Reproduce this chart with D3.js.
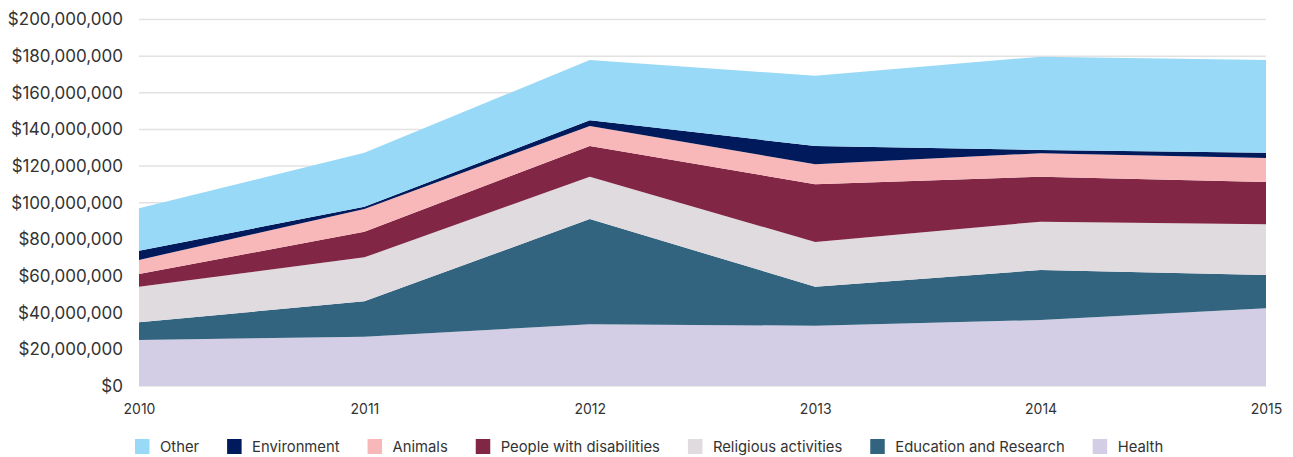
<!DOCTYPE html>
<html>
<head>
<meta charset="utf-8">
<script src="https://cdn.jsdelivr.net/npm/d3@7"></script>
<style>
  html, body { margin: 0; padding: 0; background: #fff; }
  svg { display: block; font-family: Inter, "Noto Sans", sans-serif; }
</style>
</head>
<body>
<svg id="chart" width="1293" height="457"></svg>
<script>
// Yearly giving by cause (USD)
const years = [2010, 2011, 2012, 2013, 2014, 2015];
const health      = [25.1e6, 26.9e6, 33.7e6, 32.9e6, 36.0e6, 42.4e6];
const education   = [9.7e6, 19.3e6, 57.4e6, 21.3e6, 27.3e6, 18.2e6];
const religious   = [19.4e6, 24.0e6, 23.1e6, 24.4e6, 26.4e6, 27.6e6];
const disabilities= [6.9e6, 14.0e6, 16.8e6, 31.5e6, 24.5e6, 23.1e6];
const animals     = [7.7e6, 12.4e6, 10.9e6, 10.9e6, 12.8e6, 13.1e6];
const environment = [5.0e6, 1.2e6, 3.1e6, 10.0e6, 1.8e6, 2.9e6];
const other       = [23.2e6, 29.5e6, 32.9e6, 38.3e6, 50.9e6, 50.6e6];
const yTicks = [0, 20e6, 40e6, 60e6, 80e6, 100e6, 120e6, 140e6, 160e6, 180e6, 200e6];

// Stack order bottom → top
const seriesDefs = [
  { key: "Health", values: health, color: "#d3cee5" },
  { key: "Education and Research", values: education, color: "#32647f" },
  { key: "Religious activities", values: religious, color: "#e0dbdf" },
  { key: "People with disabilities", values: disabilities, color: "#822645" },
  { key: "Animals", values: animals, color: "#f8b8b9" },
  { key: "Environment", values: environment, color: "#001a5c" },
  { key: "Other", values: other, color: "#97d9f6" }
];

const rows = years.map((yr, i) => {
  const r = { year: yr };
  seriesDefs.forEach(s => r[s.key] = s.values[i]);
  return r;
});

const svg = d3.select("#chart");
const margin = { left: 139, right: 27, top: 19.5, bottom: 71 };
const W = 1293, H = 457;

const x = d3.scaleLinear().domain([2010, 2015]).range([margin.left, W - margin.right]);
const y = d3.scaleLinear().domain([0, 200e6]).range([H - margin.bottom, margin.top]);

// Gridlines
svg.append("g")
  .selectAll("line")
  .data(yTicks)
  .join("line")
  .attr("x1", x(2010)).attr("x2", x(2015))
  .attr("y1", d => y(d)).attr("y2", d => y(d))
  .attr("stroke", "#e4e1e3").attr("stroke-width", 1.5);

// Stacked areas
const stack = d3.stack().keys(seriesDefs.map(s => s.key));
const layers = stack(rows);
const area = d3.area()
  .x(d => x(d.data.year))
  .y0(d => y(d[0]))
  .y1(d => y(d[1]));

svg.append("g")
  .selectAll("path")
  .data(layers)
  .join("path")
  .attr("d", area)
  .attr("fill", (d, i) => seriesDefs[i].color);

// Y axis labels
const fmt = v => "$" + d3.format(",")(v);
const yAxis = d3.axisLeft(y).tickValues(yTicks).tickFormat(fmt).tickSize(0).tickPadding(16);
const gy = svg.append("g").attr("transform", `translate(${margin.left},0)`).call(yAxis);
gy.select(".domain").remove();
gy.selectAll("text").attr("font-size", 17).attr("fill", "#333").attr("font-family", "Inter, sans-serif");

// X axis labels
const xAxis = d3.axisBottom(x).tickValues(years).tickFormat(d3.format("d")).tickSize(0).tickPadding(18);
const gx = svg.append("g").attr("transform", `translate(0,${y(0)})`).call(xAxis);
gx.select(".domain").remove();
gx.selectAll("text").attr("font-size", 14).attr("fill", "#333").attr("font-family", "Inter, sans-serif");

// Legend
const legendOrder = ["Other", "Environment", "Animals", "People with disabilities", "Religious activities", "Education and Research", "Health"];
const legend = svg.append("g").attr("transform", "translate(135,439)");
let lx = 0;
legendOrder.forEach(k => {
  const s = seriesDefs.find(d => d.key === k);
  const g = legend.append("g").attr("transform", `translate(${lx},0)`);
  g.append("rect").attr("width", 14.5).attr("height", 15).attr("fill", s.color);
  const t = g.append("text").attr("x", 25).attr("y", 13)
    .attr("font-size", 14.8).attr("fill", "#333").attr("font-family", "Inter, sans-serif").text(k);
  lx += 25 + t.node().getComputedTextLength() + 28;
});
</script>
</body>
</html>
